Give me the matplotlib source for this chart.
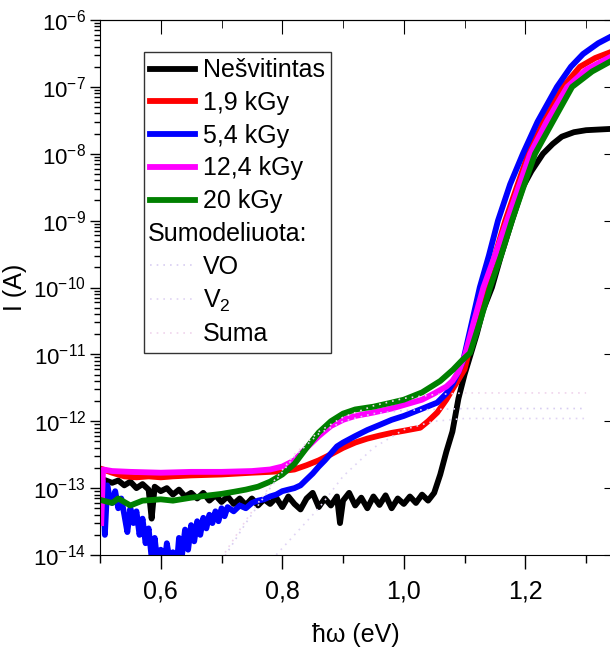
import matplotlib
matplotlib.use("Agg")
import matplotlib.pyplot as plt
from matplotlib.lines import Line2D
from matplotlib.ticker import LogLocator, MultipleLocator, NullFormatter
import numpy as np

plt.rcParams['font.family'] = ['Liberation Sans', 'DejaVu Sans']
plt.rcParams['mathtext.fontset'] = 'custom'
plt.rcParams['mathtext.rm'] = 'Liberation Sans'
plt.rcParams['mathtext.it'] = 'Liberation Sans:italic'

# --- data ---
x_black = [0.505, 0.52, 0.53, 0.54, 0.55, 0.56, 0.57, 0.58, 0.585, 0.59, 0.60, 0.61, 0.62,
           0.63, 0.64, 0.65, 0.66, 0.67, 0.68, 0.69, 0.70, 0.71, 0.72, 0.73, 0.74, 0.75,
           0.76, 0.77, 0.78, 0.79, 0.80, 0.81, 0.82, 0.83, 0.84, 0.85, 0.86, 0.87, 0.88,
           0.89, 0.895, 0.90, 0.91, 0.92, 0.93, 0.94, 0.95, 0.96, 0.97, 0.98, 0.99, 1.00,
           1.01, 1.02, 1.03, 1.04, 1.05, 1.06, 1.07, 1.08, 1.09, 1.10, 1.11, 1.12, 1.13,
           1.145, 1.16, 1.178, 1.196, 1.21, 1.229, 1.245, 1.26, 1.28, 1.30, 1.34]
i_black = [1.35e-13, 1.2e-13, 1.3e-13, 1.1e-13, 1.25e-13, 1.0e-13, 1.15e-13, 9.5e-14, 3.5e-14,
           1.05e-13, 9e-14, 1.0e-13, 8e-14, 9.5e-14, 7.5e-14, 8.5e-14, 7e-14, 8.5e-14, 6.5e-14,
           7.8e-14, 6.2e-14, 7.5e-14, 5.8e-14, 7e-14, 5.6e-14, 7e-14, 5.5e-14, 6.8e-14, 5.8e-14,
           7.2e-14, 5.2e-14, 7.5e-14, 5.8e-14, 4.8e-14, 7e-14, 8.5e-14, 5.2e-14, 7e-14, 5.5e-14,
           7.5e-14, 3e-14, 6.5e-14, 8.5e-14, 5.5e-14, 7.2e-14, 5e-14, 7.5e-14, 5.6e-14, 7.8e-14,
           5e-14, 7e-14, 5.8e-14, 7.5e-14, 6e-14, 8e-14, 6.5e-14, 8.5e-14, 1.6e-13, 3.5e-13,
           7e-13, 2.2e-12, 5e-12, 1e-11, 2e-11, 4.5e-11, 1e-10, 3e-10, 1e-9, 3.2e-9, 5.5e-9,
           1e-8, 1.4e-8, 1.8e-8, 2.1e-8, 2.25e-8, 2.35e-8]

x_red = [0.505, 0.52, 0.54, 0.56, 0.58, 0.60, 0.62, 0.65, 0.70, 0.75, 0.78, 0.80, 0.82, 0.84,
         0.86, 0.88, 0.90, 0.92, 0.94, 0.96, 0.98, 1.00, 1.027, 1.04, 1.055, 1.07, 1.08, 1.09,
         1.10, 1.106, 1.12, 1.134, 1.15, 1.167, 1.185, 1.205, 1.23, 1.262, 1.29, 1.315, 1.34]
i_red = [1.9e-13, 1.7e-13, 1.5e-13, 1.45e-13, 1.5e-13, 1.45e-13, 1.5e-13, 1.55e-13, 1.6e-13,
         1.7e-13, 1.75e-13, 1.8e-13, 1.9e-13, 2.2e-13, 2.6e-13, 3.2e-13, 4e-13, 4.8e-13, 5.5e-13,
         6.1e-13, 6.7e-13, 7.2e-13, 8e-13, 1e-12, 1.35e-12, 2.1e-12, 3e-12, 4.2e-12, 6e-12, 1e-11,
         3e-11, 1e-10, 3e-10, 1e-9, 3e-9, 1e-8, 3e-8, 1e-7, 2e-7, 2.7e-7, 3.3e-7]

x_blue = [0.505, 0.508, 0.512, 0.515, 0.52, 0.525, 0.53, 0.535, 0.54, 0.545, 0.55, 0.555, 0.56,
          0.565, 0.57, 0.575, 0.58, 0.585, 0.59, 0.595, 0.60, 0.605, 0.61, 0.615, 0.62, 0.625,
          0.63, 0.635, 0.64, 0.645, 0.65, 0.655, 0.66, 0.665, 0.67, 0.675, 0.68, 0.685, 0.69,
          0.695, 0.70, 0.705, 0.71, 0.72, 0.73, 0.74, 0.75, 0.76, 0.77, 0.78, 0.79, 0.80, 0.81,
          0.82, 0.83, 0.84, 0.85, 0.86, 0.87, 0.88, 0.89, 0.90, 0.92, 0.94, 0.96, 0.98, 1.00,
          1.027, 1.055, 1.07, 1.081, 1.09, 1.098, 1.11, 1.125, 1.14, 1.155, 1.175, 1.196, 1.22,
          1.252, 1.275, 1.295, 1.32, 1.34]
i_blue = [1.2e-13, 2e-14, 1.1e-13, 8e-14, 6e-14, 9e-14, 5e-14, 7e-14, 4e-14, 2.2e-14, 5e-14,
          3e-14, 4.5e-14, 2e-14, 3.5e-14, 1.5e-14, 2.5e-14, 9e-15, 1.8e-14, 7e-15, 1.2e-14,
          6e-15, 1.5e-14, 8e-15, 1.1e-14, 5e-15, 1.8e-14, 1e-14, 2.4e-14, 1.2e-14, 2.8e-14,
          1.6e-14, 3.2e-14, 2e-14, 3.6e-14, 2.5e-14, 4e-14, 3e-14, 4.5e-14, 3.2e-14, 5e-14,
          3.8e-14, 5.2e-14, 4.5e-14, 5.5e-14, 5e-14, 6e-14, 6.5e-14, 6.8e-14, 7.5e-14, 8e-14,
          9e-14, 9.5e-14, 1.0e-13, 1.1e-13, 1.35e-13, 1.65e-13, 2.1e-13, 2.6e-13, 3.3e-13,
          4.2e-13, 4.8e-13, 6e-13, 7.4e-13, 8.8e-13, 1.05e-12, 1.2e-12, 1.5e-12, 1.9e-12,
          2.6e-12, 3.7e-12, 5.5e-12, 8.3e-12, 2.5e-11, 1e-10, 3e-10, 1e-9, 3.5e-9, 1e-8, 3e-8,
          1e-7, 2e-7, 3.1e-7, 4.5e-7, 5.6e-7]

x_mag = [0.502, 0.505, 0.52, 0.55, 0.60, 0.65, 0.70, 0.75, 0.78, 0.80, 0.82, 0.84, 0.86, 0.88,
         0.90, 0.92, 0.95, 0.98, 1.00, 1.03, 1.05, 1.07, 1.08, 1.09, 1.101, 1.115, 1.131, 1.15,
         1.170, 1.188, 1.208, 1.235, 1.269, 1.30, 1.34]
i_mag = [3e-14, 1.9e-13, 1.8e-13, 1.75e-13, 1.7e-13, 1.75e-13, 1.75e-13, 1.8e-13, 1.9e-13,
         2.1e-13, 2.6e-13, 4e-13, 6e-13, 8.5e-13, 1.05e-12, 1.2e-12, 1.35e-12, 1.55e-12,
         1.75e-12, 2.1e-12, 2.6e-12, 3.3e-12, 4e-12, 5.5e-12, 1e-11, 3e-11, 1e-10, 3e-10, 1e-9,
         3e-9, 1e-8, 3e-8, 1e-7, 1.8e-7, 2.8e-7]

x_green = [0.505, 0.52, 0.53, 0.55, 0.57, 0.60, 0.62, 0.65, 0.68, 0.70, 0.72, 0.74, 0.76, 0.78,
           0.80, 0.82, 0.84, 0.86, 0.88, 0.90, 0.92, 0.95, 0.98, 1.00, 1.03, 1.06, 1.081, 1.095,
           1.109, 1.125, 1.142, 1.16, 1.178, 1.196, 1.216, 1.245, 1.277, 1.31, 1.34]
i_green = [6.5e-14, 6e-14, 7e-14, 5.5e-14, 6.5e-14, 6.8e-14, 6.5e-14, 7.2e-14, 7.8e-14, 8.2e-14,
           8.8e-14, 9.5e-14, 1.05e-13, 1.25e-13, 1.6e-13, 2.3e-13, 4e-13, 6.8e-13, 1.0e-12,
           1.3e-12, 1.5e-12, 1.65e-12, 1.9e-12, 2.1e-12, 2.7e-12, 4e-12, 5.9e-12, 8e-12, 1.05e-11,
           3e-11, 1e-10, 3e-10, 1e-9, 3e-9, 1e-8, 3e-8, 1e-7, 1.7e-7, 2.4e-7]

# modelled components
x_model = [0.70, 0.74, 0.78, 0.82, 0.86, 0.90, 0.95, 1.00, 1.05, 1.10, 1.20, 1.30]
i_vo = [8e-15, 3e-14, 1e-13, 3e-13, 6.5e-13, 1e-12, 1.3e-12, 1.45e-12, 1.5e-12, 1.55e-12,
        1.55e-12, 1.55e-12]
i_v2 = [1e-15, 3e-15, 8e-15, 2e-14, 5e-14, 1.5e-13, 4e-13, 7.5e-13, 1.0e-12, 1.1e-12,
        1.1e-12, 1.1e-12]
i_suma = list(np.array(i_vo) + np.array(i_v2))

labels = ['Nešvitintas', '1,9 kGy', '5,4 kGy', '12,4 kGy', '20 kGy']
colors = ['black', '#ff0000', '#0000ff', '#ff00ff', '#008000']
model_labels = ['VO', 'V$_2$', 'Suma']
model_colors = ['#d8cdf2', '#e0d4f4', '#f0d4ec']
xtick_vals = [0.6, 0.8, 1.0, 1.2]
xtick_labels = ['0,6', '0,8', '1,0', '1,2']

W, H = 610, 657
fig = plt.figure(figsize=(W / 100, H / 100), dpi=100)
ax = fig.add_axes([100 / W, 102 / H, 511 / W, 535 / H])

series = [(x_black, i_black), (x_red, i_red), (x_blue, i_blue), (x_mag, i_mag), (x_green, i_green)]
for (xs, ys), c, lab in zip(series, colors, labels):
    ax.plot(xs, ys, color=c, lw=4.2, label=lab, solid_joinstyle='round')

for ys, c in zip([i_vo, i_v2, i_suma], model_colors):
    ax.plot(x_model, ys, color=c, lw=1.2, ls=(0, (1, 3)))

ax.set_yscale('log')
ax.set_xlim(0.5, 1.341)
ax.set_ylim(1e-14, 1e-6)
ax.set_xticks(xtick_vals)
ax.set_xticklabels(xtick_labels)
ax.xaxis.set_minor_locator(MultipleLocator(0.1))
ax.yaxis.set_major_locator(LogLocator(base=10, numticks=20))
ax.yaxis.set_minor_locator(LogLocator(base=10, subs=np.arange(2, 10), numticks=100))
ax.yaxis.set_minor_formatter(NullFormatter())

ax.tick_params(which='major', direction='out', length=7, width=1, pad=3)
ax.tick_params(which='minor', direction='out', length=4, width=1)
ax.tick_params(axis='y', labelsize=16)
ax.tick_params(axis='x', which='major', length=10, pad=8, labelsize=18)
ax.tick_params(axis='x', which='minor', length=6)

top = ax.secondary_xaxis('top')
top.set_xticks(xtick_vals)
top.xaxis.set_minor_locator(MultipleLocator(0.1))
top.tick_params(which='major', direction='in', length=10, labeltop=False)
top.tick_params(which='minor', direction='in', length=6)
right = ax.secondary_yaxis('right')
right.yaxis.set_major_locator(LogLocator(base=10, numticks=20))
right.tick_params(which='major', direction='in', length=5, labelright=False)
right.tick_params(which='minor', length=0)

ax.set_xlabel('ħω (eV)', fontsize=18, labelpad=14)
ax.set_ylabel('I (A)', fontsize=18)
ax.yaxis.set_label_coords(-0.142, 0.5)

handles = [Line2D([], [], color=c, lw=4.2) for c in colors]
handles.append(Line2D([], [], color='none'))
handles += [Line2D([], [], color=c, lw=1.2, ls=(0, (1, 3))) for c in model_colors]
leg_labels = labels + [''] + model_labels
leg = ax.legend(handles, leg_labels, loc='upper left',
                bbox_to_anchor=(144 / W, 1 - 52 / H), bbox_transform=fig.transFigure,
                fontsize=18, frameon=True, fancybox=False, edgecolor='black',
                handlelength=1.8, handletextpad=0.3, labelspacing=0.35,
                borderpad=0.25, borderaxespad=0)
leg.get_frame().set_linewidth(1)

# heading row of the legend, written from the frame's left edge
fig.canvas.draw()
r = fig.canvas.get_renderer()
b4 = leg.get_texts()[4].get_window_extent(r)
b6 = leg.get_texts()[6].get_window_extent(r)
fb = leg.get_frame().get_window_extent(r)
fig.text((fb.x0 + 4) / W, (b4.y0 + b6.y0) / 2 / H, 'Sumodeliuota:', fontsize=18,
         ha='left', va='bottom')

fig.savefig('out.png', dpi=100)
